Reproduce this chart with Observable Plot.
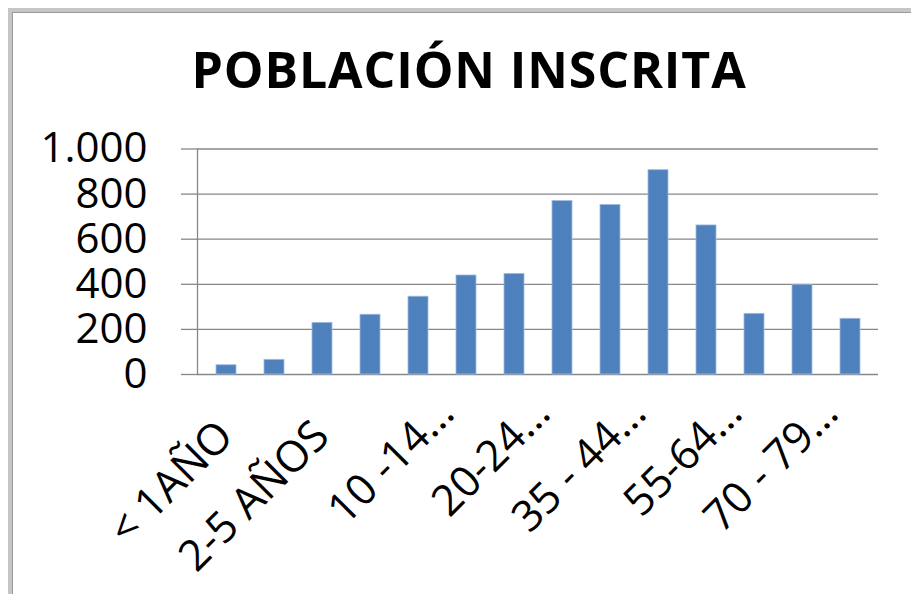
<!DOCTYPE html>
<html>
<head>
<meta charset="utf-8">
<script src="https://cdn.jsdelivr.net/npm/d3@7"></script>
<script src="https://cdn.jsdelivr.net/npm/@observablehq/plot@0.6"></script>
<style>
  html, body { margin: 0; padding: 0; background: #fff; overflow: hidden; }
  #wrap { position: relative; width: 911px; height: 594px; overflow: hidden; background: #fff; }
  #frame { position: absolute; left: 8px; top: 8px; width: 1200px; height: 900px;
           border-left: 4px solid #c6c6c6; border-top: 4px solid #c6c6c6; }
  #frame2 { position: absolute; left: 12px; top: 12px; width: 1200px; height: 900px;
           border-left: 1px solid #9a9a9a; border-top: 1px solid #9a9a9a; }
  #title { position: absolute; left: 0; top: 43.5px; width: 938px; text-align: center;
           font-family: "Open Sans", sans-serif; font-weight: 700; font-size: 50px; line-height: 50px;
           letter-spacing: 0.9px; color: #000; }
  #chart { position: absolute; left: 0; top: 120px; }
</style>
</head>
<body>
<div id="wrap">
  <div id="frame"></div>
  <div id="frame2"></div>
  <div id="title">POBLACIÓN INSCRITA</div>
  <div id="chart"></div>
</div>
<script>
const categories = [
  "< 1AÑO", "1 AÑO", "2-5 AÑOS", "6-9 AÑOS", "10 -14 AÑOS", "15-19 AÑOS", "20-24 AÑOS",
  "25-34 AÑOS", "35 - 44 AÑOS", "45-54 AÑOS", "55-64 AÑOS", "65-69 AÑOS", "70 - 79 AÑOS", "80 Y MÁS"
];
const values = [41, 65, 229, 265, 345, 439, 446, 769, 752, 906, 661, 269, 398, 247];
const tickLabels = [
  "< 1AÑO", "", "2-5 AÑOS", "", "10 -14…", "", "20-24…",
  "", "35 - 44…", "", "55-64…", "", "70 - 79…", ""
];
const yTicks = [0, 200, 400, 600, 800, 1000];

const data = categories.map((c, i) => ({category: c, value: values[i], label: tickLabels[i]}));
const fullLabels = data.filter(d => d.label !== "" && !d.label.endsWith("…"));
const truncLabels = data.filter(d => d.label !== "" && d.label.endsWith("…"));

const fmt = d3.formatLocale({decimal: ",", thousands: ".", grouping: [3], currency: ["", ""]}).format(",");
const grid = "#878787";

const chart = Plot.plot({
  width: 911,
  height: 474,
  marginTop: 28.5,
  marginBottom: 220,
  marginLeft: 197,
  marginRight: 33,
  style: {fontFamily: "Open Sans, sans-serif", background: "transparent", color: "#000"},
  x: {domain: categories, paddingInner: 0.59, paddingOuter: 0.295, axis: null},
  y: {domain: [0, 1000], axis: null},
  marks: [
    Plot.gridY(yTicks, {stroke: grid, strokeOpacity: 1, strokeWidth: 1.3}),
    Plot.axisY(yTicks, {label: null, tickSize: 16, tickPadding: 34, tickFormat: fmt, fontSize: 42,
      stroke: grid, strokeWidth: 1.3, fill: "#000"}),
    Plot.frame({anchor: "left", stroke: grid, strokeWidth: 1.3}),
    Plot.barY(data, {x: "category", y: "value", fill: "#4F81BD", stroke: "#9fbbdf", strokeWidth: 0.8}),
    Plot.text(fullLabels, {x: "category", text: "label", frameAnchor: "bottom", rotate: -45, textAnchor: "end",
      lineAnchor: "bottom", dx: 9, dy: 64, fontSize: 43, fill: "#000"}),
    Plot.text(truncLabels, {x: "category", text: "label", frameAnchor: "bottom", rotate: -45, textAnchor: "end",
      lineAnchor: "bottom", dx: 38, dy: 41, fontSize: 43, fill: "#000"})
  ]
});
document.getElementById("chart").appendChild(chart);
</script>
</body>
</html>
